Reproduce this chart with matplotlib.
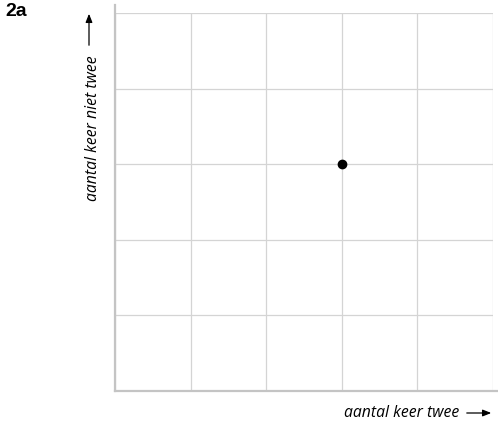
import matplotlib
matplotlib.use("Agg")
import matplotlib.pyplot as plt

# gegevens
punt_x = [3]
punt_y = [3]
x_ticks = [0, 1, 2, 3, 4, 5]
y_ticks = [0, 1, 2, 3, 4, 5]
x_label = "aantal keer twee"
y_label = "aantal keer niet twee"
opgave = "2a"

W, H = 498, 423
fig = plt.figure(figsize=(W / 100, H / 100), dpi=100)
ax = fig.add_axes([115 / W, (H - 391) / H, (493 - 115) / W, (391 - 13) / H])

ax.set_xlim(x_ticks[0], x_ticks[-1])
ax.set_ylim(y_ticks[0], y_ticks[-1])
ax.set_xticks(x_ticks)
ax.set_yticks(y_ticks)
ax.tick_params(length=0, labelbottom=False, labelleft=False)
ax.grid(True, color="#d4d4d4", linewidth=0.9)
for s in ax.spines.values():
    s.set_visible(False)

# assen (iets verlengd, zoals in het origineel)
ax.plot([0, 0], [0, 5.1], color="#c4c4c4", lw=1.6, clip_on=False, zorder=3)
ax.plot([0, 5.05], [0, 0], color="#c4c4c4", lw=1.6, clip_on=False, zorder=3)

ax.plot(punt_x, punt_y, "o", color="black", markersize=6, zorder=4)

fam = ["Open Sans", "DejaVu Sans"]
fig.text(5 / W, 1 - 16 / H, opgave, fontsize=14, fontweight="bold",
         family=["Liberation Sans"], ha="left", va="baseline")

# y-as label met pijl
fig.text(93 / W, 1 - 201 / H, y_label, rotation=90, fontsize=11.3, style="italic",
         family=fam, ha="center", va="bottom")
fig.patches.append(matplotlib.patches.FancyArrowPatch(
    (89 / W, 1 - 48 / H), (89 / W, 1 - 11 / H), transform=fig.transFigure,
    arrowstyle="-|>,head_length=5,head_width=2", color="black", lw=0.9,
    mutation_scale=1))

# x-as label met pijl
fig.text(459 / W, 1 - 417 / H, x_label, fontsize=11.3, style="italic",
         family=fam, ha="right", va="baseline")
fig.patches.append(matplotlib.patches.FancyArrowPatch(
    (464 / W, 1 - 413 / H), (494 / W, 1 - 413 / H), transform=fig.transFigure,
    arrowstyle="-|>,head_length=5,head_width=2", color="black", lw=0.9,
    mutation_scale=1))

fig.savefig("out.png", dpi=100, facecolor="white")
